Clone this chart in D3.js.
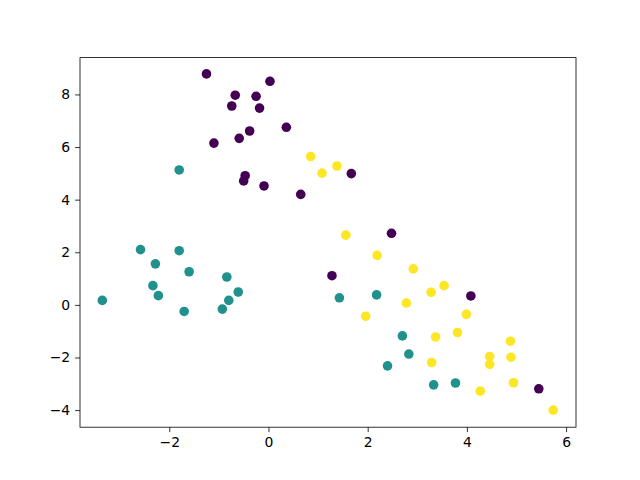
<!DOCTYPE html>
<html>
<head>
<meta charset="utf-8">
<script src="https://cdn.jsdelivr.net/npm/d3@7"></script>
<style>
  body { margin: 0; background: #fff; }
  .axis text { font-family: "DejaVu Sans", sans-serif; font-size: 13.9px; fill: #000; }
  .axis path, .axis line { stroke: #000; stroke-width: 0.8px; }
</style>
</head>
<body>
<div class="canvas"></div>
<script>
// three groups, [x, y] points
const group0 = [
  [-1.25, 8.78], [0.03, 8.50], [-0.67, 7.97], [-0.25, 7.93], [-0.74, 7.56],
  [-0.18, 7.48], [0.36, 6.75], [-0.38, 6.61], [-0.59, 6.33], [-1.10, 6.15],
  [-0.47, 4.91], [-0.50, 4.71], [-0.09, 4.52], [0.65, 4.20], [1.67, 4.99],
  [2.48, 2.72], [1.28, 1.11], [4.08, 0.34], [5.45, -3.19]
];
const group1 = [
  [-1.80, 5.13], [-2.58, 2.10], [-1.80, 2.06], [-2.28, 1.56], [-1.60, 1.26],
  [-0.84, 1.06], [-2.33, 0.73], [-2.22, 0.35], [-3.35, 0.17], [-0.61, 0.49],
  [-0.80, 0.17], [-0.93, -0.16], [-1.70, -0.25], [1.43, 0.27], [2.18, 0.38],
  [2.70, -1.18], [2.83, -1.87], [2.40, -2.32], [3.33, -3.04], [3.77, -2.97]
];
const group2 = [
  [0.85, 5.64], [1.38, 5.28], [1.08, 5.01], [1.56, 2.65], [2.19, 1.88],
  [2.92, 1.37], [3.28, 0.48], [3.54, 0.73], [2.78, 0.07], [1.96, -0.43],
  [3.99, -0.36], [3.81, -1.05], [3.37, -1.22], [3.29, -2.19], [4.46, -1.96],
  [4.46, -2.26], [4.88, -1.38], [4.89, -1.99], [4.27, -3.28], [4.94, -2.96],
  [5.74, -4.00]
];
const groupColors = ['#440154', '#21918c', '#fde725'];
const xTicks = [-2, 0, 2, 4, 6];
const yTicks = [-4, -2, 0, 2, 4, 6, 8];

const WIDTH = 640, HEIGHT = 480;
const MARGIN = { left: 80, right: 64, top: 57.6, bottom: 52.8 };
const GRAPH_WIDTH = WIDTH - MARGIN.left - MARGIN.right;
const GRAPH_HEIGHT = HEIGHT - MARGIN.top - MARGIN.bottom;

const svg = d3.select('.canvas').append('svg')
  .attr('width', WIDTH)
  .attr('height', HEIGHT);

const graph = svg.append('g')
  .attr('transform', `translate(${MARGIN.left}, ${MARGIN.top})`);

//scales
const x = d3.scaleLinear().domain([-3.80, 6.20]).range([0, GRAPH_WIDTH]);
const y = d3.scaleLinear().domain([-4.65, 9.40]).range([GRAPH_HEIGHT, 0]);

const fmt = d => (d < 0 ? '\u2212' + Math.abs(d) : String(d));

//points
const points = [];
[group0, group1, group2].forEach((g, i) => g.forEach(p => points.push({ x: p[0], y: p[1], c: i })));

graph.append('g').selectAll('circle')
  .data(points)
  .enter().append('circle')
  .attr('cx', d => x(d.x))
  .attr('cy', d => y(d.y))
  .attr('r', 4.8)
  .attr('fill', d => groupColors[d.c]);

//axes
graph.append('g')
  .attr('class', 'axis')
  .attr('transform', `translate(0, ${GRAPH_HEIGHT})`)
  .call(d3.axisBottom(x).tickValues(xTicks).tickFormat(fmt).tickSizeInner(4.9).tickSizeOuter(0).tickPadding(4.9));

graph.append('g')
  .attr('class', 'axis')
  .call(d3.axisLeft(y).tickValues(yTicks).tickFormat(fmt).tickSizeInner(4.9).tickSizeOuter(0).tickPadding(4.9));

//frame
graph.append('rect')
  .attr('width', GRAPH_WIDTH)
  .attr('height', GRAPH_HEIGHT)
  .attr('fill', 'none')
  .attr('stroke', '#000')
  .attr('stroke-width', 0.8);

svg.selectAll('.axis .domain').remove();
</script>
</body>
</html>
